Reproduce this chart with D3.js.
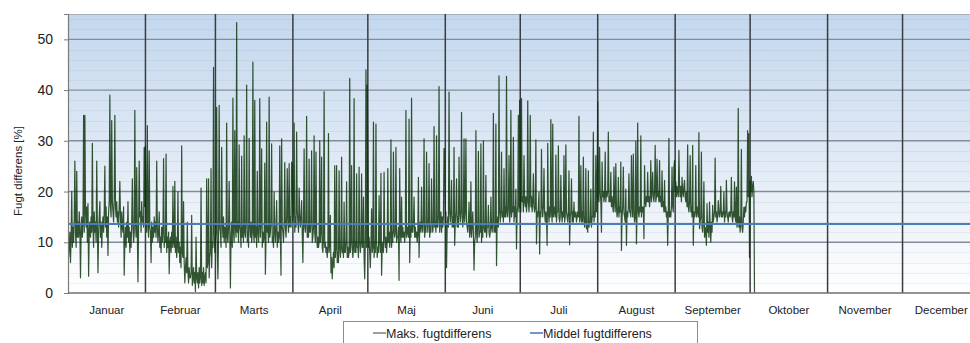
<!DOCTYPE html>
<html><head><meta charset="utf-8">
<script src="https://cdn.jsdelivr.net/npm/d3@7"></script>
<style>body{margin:0;background:#fff;} svg{display:block;font-family:"Liberation Sans",Arial,sans-serif;}</style>
</head><body><svg id="c" width="970" height="343"></svg>
<script>
const months = ["Januar","Februar","Marts","April","Maj","Juni","Juli","August","September","Oktober","November","December"];
const yTicks = [0,10,20,30,40,50];
const middel = 13.6;
const seriesNames = ["Maks. fugtdifferens","Middel fugtdifferens"];
// 4 values per day (every 6 hours), month by month
const jan = [10,7,9,12, 6,11,20,9, 13,10,15,26, 12,9,24,11, 14,11,16,13, 3,12,15,11, 14,35,12,35, 16,13,17,10,
 17.6,3.3,12,14, 11,15,12,29.5, 13,9,16,12, 14,10,26,13, 4,12,15,18, 11,14,9,13, 15,12,16,25, 13,17,11,15,
 7.4,16,18,39, 17,15,34,18, 16,14,19,35, 17,15,18,14, 16,13,17,22, 15,11,16,13, 12,17,3.5,10, 13,9,14,11,
 18,10,13,8, 12,9,14,22.5, 13,10,12,36, 14,11,24.7,12, 2.2,13,26,15, 16,12,18,14, 15,13,28.7,17];
const feb = [29,15,12,33, 14,11,28,13, 12,6,14,10, 13,11,15,12, 14,11,26,13, 10,12,16,9, 11,8,13,10, 12,26.5,9,11,
 10,27.4,8,11, 9,12,3.8,10, 11,8,12,9, 21,10,9,22, 8,11,7,9, 20,8,10,6, 9,5,29,8, 7,18,6,2,
 5,7,4,14, 4,2,5,3, 3,4,15.3,1.5, 3,5,2,4, 0.3,11,3,2, 4,1,5,2, 3,20.7,1.5,4, 2,5,1.5,3,
 4,2,22.5,5, 6,22.5,3,7, 8,24.5,5,10, 9,44.5,12,8];
const mar = [10,12,36.6,8, 2.8,11,37,13, 12,9,28.7,14, 11,15,10,13, 12,9,33.5,11, 10,13,22,12, 1,11,14,9, 38.4,12,10,32,
 13,11,53.3,12, 14,10,29.2,13, 12,9,27,11, 13,10,31,12, 11,14,41,10, 12,9,30.5,13, 11,14,10,12, 45.5,12,10,38,
 11,13,9,24, 12,10,13,38.3, 11,14,28.4,9, 12,10,11,25.6, 3.7,11,33.7,12, 13,10,38.6,11, 12,14,29.4,10, 11,9,19.9,12,
 10,13,18.2,9, 12,10,11,29, 11,3.5,30.4,13, 12,10,14,25.7, 13,11,15,24.5, 14,12,25.5,13, 15,13,25.8,25.5];
const apr = [14,16,33.5,12, 15,13,31.7,16, 14,12,20.7,15, 13,15,18.2,12, 6,14,28.4,13, 12,14,34.8,11, 13,11,26.4,12, 12,14,28,10,
 11,13,31,12, 10,27.8,12,9, 11,9,10,30, 10,12,26.8,9, 8,11,39.7,9, 10,8,9,7, 9,31.4,8,10, 15.3,4,7,2.8,
 6,8,5,25.1, 7,9,25.1,6, 8,6,24.1,9, 7,9,26.8,8, 9,7,17.9,8, 8,10,21.9,7, 9,7,8,42.3, 8,10,25.1,9,
 7,9,38.3,8, 10,8,23.5,9, 9,7,24.8,10, 8,10,23.5,9, 9,18.9,7,2.8, 10,44,9,41];
const maj = [28.4,9,11,8, 5,10,16.6,8, 9,33.7,7,10, 8,33.3,10,7, 9,8,19.2,10, 8,23.6,3.5,9, 10,8,23.8,11, 9,11,8,10,
 24.5,10,12,9, 11,30.2,9,12, 10,27.8,12,11, 12,28.7,10,11, 11,13,2.5,24.5, 12,10,18.9,11, 13,11,12,10, 12,36,11,13,
 12,11,34.3,6, 13,11,38.4,12, 12,14,18.9,11, 13,11,12,10, 12,22.8,7,13, 14,12,20.9,13, 12,14,30.4,11, 13,12,27.8,14,
 12,14,25.5,11, 13,12,22.5,14, 12,14,32.8,13, 14,12,31,13, 13,15,40.7,12, 14,16,12,15, 13,15,28.5,28.4];
const jun = [14,16,5,13, 15,13,39.6,16, 14,16,22.2,13, 15,13,28.7,9.4, 14,16,22.5,13, 15,13,26.8,16, 14,16,35.6,15, 13,15,30.4,14,
 16,30.4,14,13, 12,14,17.9,11, 12,21.9,11,13, 16,12,4.5,10, 11,32,12,10, 13,27.9,11,12, 12,29.4,10,13, 11,30,13,12,
 12,23.2,11,13, 13,17.3,12,11, 12,18.9,13,12, 14,35.4,12,13, 12,33.3,5.4,14, 15,13,42.8,16, 14,16,27.8,15, 16,14,24.5,15,
 17,15,42.7,16, 15,17,27.1,14, 16,36,15,17, 16,30.7,14,17, 15,20.5,8.7,16, 17,35,16,38];
const jul = [17,16,38.3,18, 19,16,27.1,18, 17,19,16,18, 37.9,18,16,19, 35,17,19,16, 18,23.5,17,16, 17,30.2,9.7,16, 15,17,19.9,7.7,
 16,15,28.3,17, 15,17,24.5,16, 14,16,15,9.4, 29.5,16,14,17, 15,34.2,16,14, 33.3,15,17,16, 15,27.2,14,16, 16,29,15,14,
 15,23.2,16,14, 16,15,27.1,14, 15,29.2,16,15, 14,16,24.1,9.5, 15,16,22.5,14, 16,14,17.9,15, 15,16,14,15, 16,15,34.8,14,
 15,25.1,14,16, 14,26.8,15,13, 14,24.5,12.7,13, 12,24.1,13,14, 14,20.5,13,15, 15,31.7,14,16, 15,27.1,16,18];
const aug = [37.7,19,18,28.7, 20,18,12,25.8, 19,20,18,19, 27.8,18,20,19, 20,31.7,18,19, 18,23.8,17,19, 17,16,24.8,18, 16,25.5,17,15,
 16,22.8,15,17, 16,25.8,8.4,15, 17,24.8,16,15, 14,20.5,9.4,16, 15,17,23.5,16, 16,15,27.1,17, 15,27.4,16,14, 15,29.9,9.7,16,
 33.5,16,15,17, 16,31,15,17, 16,17,10.7,25.1, 18,17,19,18, 23.8,18,19,17, 19,26.1,18,20, 23.8,19,18,20, 29.1,18,19,26.4,
 19,20,18,26.1, 18,19,17,24.1, 17,18,16,22.2, 16,17,15,16, 9.4,16,30.5,15, 16,15,17,24.8, 17,16,24.8,26.1];
const sep = [20,21.9,19,21, 20,19,28.1,21, 19,21,18,22.8, 20,19,21,22.2, 19,18,20,17, 29.2,17,16,18, 27.1,16,17,15, 29.1,9.4,16,15,
 16,25.1,15,17, 16,15,31.6,12.7, 14,15,27.8,13, 12,14,21.9,11, 13,12,9.4,17.6, 12,14,11,17.9, 13,10,14,12, 17.3,14,15,16,
 26.6,15,16,14, 15,18.2,16,15, 16,21,15,16, 15,16,19.9,14, 16,15,22.2,16, 15,14,15.9,16, 15,16,22.8,15, 14,16,15,21.9,
 15,14,20.9,13, 14,36.4,13,15, 12,14,28.3,13, 12,14,16.9,15, 17,16,17.9,18, 32,19,31.4,7];
const okt = [22,20,23,19, 21,22,20,0];

const monthly = [jan, feb, mar, apr, maj, jun, jul, aug, sep, okt];
const data = [];
monthly.forEach((arr, m) => arr.forEach((v, i) => data.push({t: new Date(Date.UTC(2010, m, 1) + i * 6 * 3600e3), v})));

const svg = d3.select("#c");
const L = 68, R = 980, T = 14, B = 293;
const x = d3.scaleUtc().domain([new Date(Date.UTC(2010,0,1)), new Date(Date.UTC(2011,0,1))]).range([L, R]);
const y = d3.scaleLinear().domain([0, 55]).range([B, T]);

const defs = svg.append("defs");
const g = defs.append("linearGradient").attr("id","bg").attr("x1",0).attr("y1",0).attr("x2",0).attr("y2",1);
g.append("stop").attr("offset","0%").attr("stop-color","#c3d7ed");
g.append("stop").attr("offset","55%").attr("stop-color","#e2ebf6");
g.append("stop").attr("offset","100%").attr("stop-color","#ffffff");
defs.append("clipPath").attr("id","clip").append("rect").attr("x",L).attr("y",T).attr("width",R-L).attr("height",B-T);

svg.append("rect").attr("x",L).attr("y",T).attr("width",R-L).attr("height",B-T).attr("fill","url(#bg)");

// minor gridlines
const minor = d3.range(2, 55, 2).filter(v => v % 10 !== 0);
svg.append("g").selectAll("line").data(minor).join("line")
  .attr("x1",L).attr("x2",R).attr("y1",d=>Math.round(y(d))+0.5).attr("y2",d=>Math.round(y(d))+0.5)
  .attr("stroke","#8a96a6").attr("stroke-opacity",0.13).attr("stroke-width",1);
// major gridlines
svg.append("g").selectAll("line").data(yTicks.filter(v=>v>0)).join("line")
  .attr("x1",L).attr("x2",R).attr("y1",d=>y(d)).attr("y2",d=>y(d))
  .attr("stroke","#838d97").attr("stroke-width",1.4);
// top border
svg.append("line").attr("x1",L).attr("x2",R).attr("y1",T+0.5).attr("y2",T+0.5).attr("stroke","#a7b1bb");

// month lines
const monthStarts = d3.utcMonth.range(new Date(Date.UTC(2010,1,1)), new Date(Date.UTC(2011,0,1)));
svg.append("g").selectAll("line").data(monthStarts).join("line")
  .attr("x1",d=>x(d)).attr("x2",d=>x(d)).attr("y1",T).attr("y2",B)
  .attr("stroke","#3a3d40").attr("stroke-width",1.5);

// series
const line = d3.line().x(d=>x(d.t)).y(d=>y(d.v));
svg.append("path").datum(data).attr("clip-path","url(#clip)")
  .attr("d", line).attr("fill","none").attr("stroke","#063006").attr("stroke-opacity",0.82)
  .attr("stroke-width",1.2).attr("stroke-linejoin","round");

// mean line
svg.append("line").attr("x1",L).attr("x2",R).attr("y1",y(middel)).attr("y2",y(middel))
  .attr("stroke","#4a7ebb").attr("stroke-width",2);

// axes
const ya = svg.append("g").attr("transform",`translate(${L},0)`)
  .call(d3.axisLeft(y).tickValues(yTicks).tickSize(4).tickPadding(11).tickFormat(d3.format("d")));
ya.select(".domain").attr("stroke","#7a7a7a").attr("stroke-width",1.2);
ya.selectAll(".tick line").attr("stroke","#7a7a7a");
ya.selectAll("text").attr("font-size","14px").attr("fill","#222").attr("font-family","Liberation Sans, Arial, sans-serif");

svg.append("line").attr("x1",L).attr("x2",R).attr("y1",B).attr("y2",B).attr("stroke","#6f6f6f").attr("stroke-width",1.4);

const monthMid = d3.utcMonth.range(new Date(Date.UTC(2010,0,1)), new Date(Date.UTC(2011,0,1)))
  .map(d => new Date((+d + +d3.utcMonth.offset(d,1)) / 2));
svg.append("g").selectAll("text").data(months).join("text")
  .attr("x",(d,i)=>x(monthMid[i])).attr("y",314).attr("text-anchor","middle")
  .attr("font-size","11.5px").attr("fill","#222").text(d=>d);

svg.append("text").attr("transform","translate(18,171) rotate(-90)").attr("text-anchor","middle")
  .attr("dy","0.35em").attr("font-size","11.5px").attr("fill","#222").text("Fugt differens [%]");

// legend
const lg = svg.append("g");
lg.append("rect").attr("x",343.5).attr("y",321.5).attr("width",354).attr("height",30).attr("fill","#fff").attr("stroke","#8c8c8c");
const legendColors = ["#7f8a7f","#4a7ebb"];
const legendX = [373, 530];
seriesNames.forEach((n,i)=>{
  lg.append("line").attr("x1",legendX[i]).attr("x2",legendX[i]+13).attr("y1",333).attr("y2",333)
    .attr("stroke",legendColors[i]).attr("stroke-width",1.6);
  lg.append("text").attr("x",legendX[i]+13).attr("y",337.5).attr("font-size","12.5px").attr("fill","#222").text(n);
});
</script></body></html>
